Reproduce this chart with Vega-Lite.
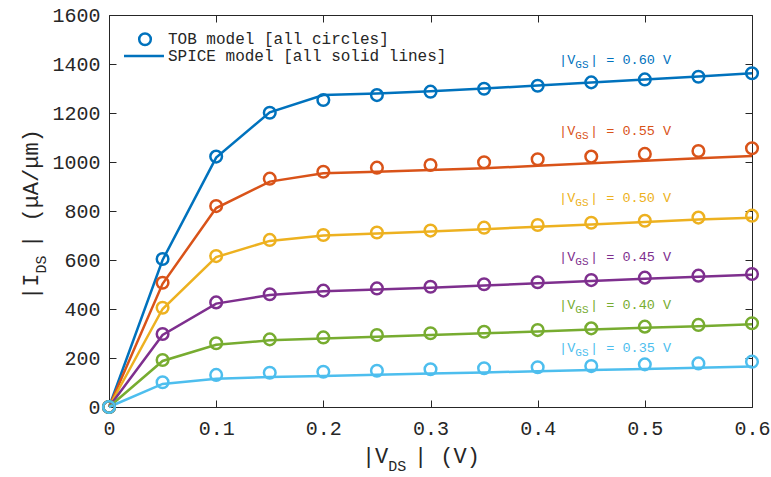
{
  "$schema": "https://vega.github.io/schema/vega-lite/v6.json",
  "width": 643,
  "height": 392,
  "autosize": {"type": "none"},
  "padding": {"left": 109, "top": 15, "right": 19, "bottom": 70},
  "background": "white",
  "config": {"view": {"stroke": null}},
  "datasets": {
    "curves": [
      {"vgs":"0.60","vds":0,"tob":0,"spice":0},{"vgs":"0.60","vds":0.05,"tob":604,"spice":600},{"vgs":"0.60","vds":0.1,"tob":1022,"spice":1018},{"vgs":"0.60","vds":0.15,"tob":1201,"spice":1203},{"vgs":"0.60","vds":0.2,"tob":1253,"spice":1273},{"vgs":"0.60","vds":0.25,"tob":1273,"spice":1280},{"vgs":"0.60","vds":0.3,"tob":1287,"spice":1289},{"vgs":"0.60","vds":0.35,"tob":1299,"spice":1300},{"vgs":"0.60","vds":0.4,"tob":1311,"spice":1312},{"vgs":"0.60","vds":0.45,"tob":1325,"spice":1324},{"vgs":"0.60","vds":0.5,"tob":1337,"spice":1337},{"vgs":"0.60","vds":0.55,"tob":1348,"spice":1349},{"vgs":"0.60","vds":0.6,"tob":1362,"spice":1362},
      {"vgs":"0.55","vds":0,"tob":0,"spice":0},{"vgs":"0.55","vds":0.05,"tob":507,"spice":503},{"vgs":"0.55","vds":0.1,"tob":820,"spice":812},{"vgs":"0.55","vds":0.15,"tob":932,"spice":920},{"vgs":"0.55","vds":0.2,"tob":960,"spice":954},{"vgs":"0.55","vds":0.25,"tob":977,"spice":960},{"vgs":"0.55","vds":0.3,"tob":988,"spice":967},{"vgs":"0.55","vds":0.35,"tob":999,"spice":974},{"vgs":"0.55","vds":0.4,"tob":1011,"spice":985},{"vgs":"0.55","vds":0.45,"tob":1022,"spice":995},{"vgs":"0.55","vds":0.5,"tob":1033,"spice":1005},{"vgs":"0.55","vds":0.55,"tob":1045,"spice":1015},{"vgs":"0.55","vds":0.6,"tob":1056,"spice":1024},
      {"vgs":"0.50","vds":0,"tob":0,"spice":0},{"vgs":"0.50","vds":0.05,"tob":405,"spice":400},{"vgs":"0.50","vds":0.1,"tob":616,"spice":612},{"vgs":"0.50","vds":0.15,"tob":682,"spice":678},{"vgs":"0.50","vds":0.2,"tob":702,"spice":700},{"vgs":"0.50","vds":0.25,"tob":712,"spice":708},{"vgs":"0.50","vds":0.3,"tob":720,"spice":716},{"vgs":"0.50","vds":0.35,"tob":732,"spice":726},{"vgs":"0.50","vds":0.4,"tob":743,"spice":736},{"vgs":"0.50","vds":0.45,"tob":752,"spice":745},{"vgs":"0.50","vds":0.5,"tob":760,"spice":755},{"vgs":"0.50","vds":0.55,"tob":773,"spice":765},{"vgs":"0.50","vds":0.6,"tob":781,"spice":772},
      {"vgs":"0.45","vds":0,"tob":0,"spice":0},{"vgs":"0.45","vds":0.05,"tob":298,"spice":294},{"vgs":"0.45","vds":0.1,"tob":427,"spice":422},{"vgs":"0.45","vds":0.15,"tob":460,"spice":457},{"vgs":"0.45","vds":0.2,"tob":475,"spice":472},{"vgs":"0.45","vds":0.25,"tob":484,"spice":480},{"vgs":"0.45","vds":0.3,"tob":491,"spice":487},{"vgs":"0.45","vds":0.35,"tob":501,"spice":496},{"vgs":"0.45","vds":0.4,"tob":509,"spice":505},{"vgs":"0.45","vds":0.45,"tob":518,"spice":514},{"vgs":"0.45","vds":0.5,"tob":528,"spice":523},{"vgs":"0.45","vds":0.55,"tob":536,"spice":532},{"vgs":"0.45","vds":0.6,"tob":543,"spice":540},
      {"vgs":"0.40","vds":0,"tob":0,"spice":0},{"vgs":"0.40","vds":0.05,"tob":192,"spice":188},{"vgs":"0.40","vds":0.1,"tob":260,"spice":254},{"vgs":"0.40","vds":0.15,"tob":276,"spice":272},{"vgs":"0.40","vds":0.2,"tob":284,"spice":280},{"vgs":"0.40","vds":0.25,"tob":294,"spice":287},{"vgs":"0.40","vds":0.3,"tob":301,"spice":294},{"vgs":"0.40","vds":0.35,"tob":307,"spice":301},{"vgs":"0.40","vds":0.4,"tob":314,"spice":308},{"vgs":"0.40","vds":0.45,"tob":321,"spice":316},{"vgs":"0.40","vds":0.5,"tob":328,"spice":323},{"vgs":"0.40","vds":0.55,"tob":335,"spice":330},{"vgs":"0.40","vds":0.6,"tob":342,"spice":338},
      {"vgs":"0.35","vds":0,"tob":0,"spice":0},{"vgs":"0.35","vds":0.05,"tob":101,"spice":94},{"vgs":"0.35","vds":0.1,"tob":131,"spice":115},{"vgs":"0.35","vds":0.15,"tob":140,"spice":122},{"vgs":"0.35","vds":0.2,"tob":144,"spice":127},{"vgs":"0.35","vds":0.25,"tob":148,"spice":132},{"vgs":"0.35","vds":0.3,"tob":154,"spice":137},{"vgs":"0.35","vds":0.35,"tob":158,"spice":141},{"vgs":"0.35","vds":0.4,"tob":162,"spice":146},{"vgs":"0.35","vds":0.45,"tob":167,"spice":151},{"vgs":"0.35","vds":0.5,"tob":174,"spice":155},{"vgs":"0.35","vds":0.55,"tob":178,"spice":160},{"vgs":"0.35","vds":0.6,"tob":185,"spice":165}
    ],
    "labels": [
      {"vgs":"0.60","lx":0.42,"ly":1400,"a":"|V","b":"GS","c":"| = 0.60 V"},
      {"vgs":"0.55","lx":0.42,"ly":1110,"a":"|V","b":"GS","c":"| = 0.55 V"},
      {"vgs":"0.50","lx":0.42,"ly":837,"a":"|V","b":"GS","c":"| = 0.50 V"},
      {"vgs":"0.45","lx":0.42,"ly":596,"a":"|V","b":"GS","c":"| = 0.45 V"},
      {"vgs":"0.40","lx":0.42,"ly":400,"a":"|V","b":"GS","c":"| = 0.40 V"},
      {"vgs":"0.35","lx":0.42,"ly":224,"a":"|V","b":"GS","c":"| = 0.35 V"}
    ],
    "legend": [
      {"item":"TOB model [all circles]","sx":0.0336,"sy":1501,"tx":0.055,"ty":1482},
      {"item":"SPICE model [all solid lines]","sx":0.014,"sx2":0.0513,"sy":1433,"tx":0.055,"ty":1412}
    ],
    "titles": [
      {"axis":"x","px":0.236,"py":-230,"a":"|V","b":"DS","c":"|  (V)"},
      {"axis":"y","px":-0.0663,"py":437,"a":"|I","b":"DS","c":"| (μA/μm)"}
    ]
  },
  "layer": [
    {
      "data": {"name": "curves"},
      "mark": {"type": "line", "strokeWidth": 2.5},
      "encoding": {
        "x": {"field": "vds", "type": "quantitative", "scale": {"domain": [0, 0.6], "nice": false},
          "axis": {"orient": "bottom", "values": [0, 0.1, 0.2, 0.3, 0.4, 0.5, 0.6], "labelExpr": "datum.value == 0 ? '0' : format(datum.value, '.1f')", "title": null, "grid": false, "tickSize": -7, "tickColor": "#262626", "domainColor": "#262626", "labelFont": "Liberation Mono", "labelFontSize": 20, "labelColor": "#262626", "labelPadding": 18, "labelFlush": false}},
        "y": {"field": "spice", "type": "quantitative", "scale": {"domain": [0, 1600], "nice": false},
          "axis": {"orient": "left", "values": [0, 200, 400, 600, 800, 1000, 1200, 1400, 1600], "format": "d", "title": null, "grid": false, "tickSize": -7, "tickColor": "#262626", "domainColor": "#262626", "labelFont": "Liberation Mono", "labelFontSize": 20, "labelColor": "#262626", "labelPadding": 16, "labelFlush": false}},
        "color": {"field": "vgs", "type": "nominal", "scale": {"domain": ["0.60","0.55","0.50","0.45","0.40","0.35"], "range": ["#0072BD","#D95319","#EDB120","#7E2F8E","#77AC30","#4DBEEE"]}, "legend": null}
      }
    },
    {
      "data": {"name": "curves"},
      "mark": {"type": "point", "shape": "circle", "filled": false, "size": 135, "strokeWidth": 2.5, "opacity": 1},
      "encoding": {
        "x": {"field": "vds", "type": "quantitative",
          "axis": {"orient": "top", "values": [0, 0.1, 0.2, 0.3, 0.4, 0.5, 0.6], "labels": false, "title": null, "grid": false, "tickSize": -7, "tickColor": "#262626", "domainColor": "#262626"}},
        "y": {"field": "tob", "type": "quantitative",
          "axis": {"orient": "right", "values": [0, 200, 400, 600, 800, 1000, 1200, 1400, 1600], "labels": false, "title": null, "grid": false, "tickSize": -7, "tickColor": "#262626", "domainColor": "#262626"}},
        "color": {"field": "vgs", "type": "nominal", "legend": null}
      }
    },
    {
      "data": {"name": "labels"},
      "mark": {"type": "text", "font": "Liberation Mono", "fontSize": 13.5, "align": "left", "baseline": "alphabetic"},
      "encoding": {
        "x": {"field": "lx", "type": "quantitative", "axis": null},
        "y": {"field": "ly", "type": "quantitative", "axis": null},
        "text": {"field": "a"},
        "color": {"field": "vgs", "type": "nominal", "legend": null}
      }
    },
    {
      "data": {"name": "labels"},
      "mark": {"type": "text", "font": "Liberation Mono", "fontSize": 11, "align": "left", "baseline": "alphabetic", "dx": 16.2, "dy": 4},
      "encoding": {
        "x": {"field": "lx", "type": "quantitative", "axis": null},
        "y": {"field": "ly", "type": "quantitative", "axis": null},
        "text": {"field": "b"},
        "color": {"field": "vgs", "type": "nominal", "legend": null}
      }
    },
    {
      "data": {"name": "labels"},
      "mark": {"type": "text", "font": "Liberation Mono", "fontSize": 13.5, "align": "left", "baseline": "alphabetic", "dx": 31},
      "encoding": {
        "x": {"field": "lx", "type": "quantitative", "axis": null},
        "y": {"field": "ly", "type": "quantitative", "axis": null},
        "text": {"field": "c"},
        "color": {"field": "vgs", "type": "nominal", "legend": null}
      }
    },
    {
      "data": {"name": "legend"},
      "transform": [{"filter": "datum.sx2 == null"}],
      "mark": {"type": "point", "shape": "circle", "filled": false, "size": 135, "strokeWidth": 2.5, "color": "#0072BD", "opacity": 1},
      "encoding": {
        "x": {"field": "sx", "type": "quantitative", "axis": null},
        "y": {"field": "sy", "type": "quantitative", "axis": null}
      }
    },
    {
      "data": {"name": "legend"},
      "transform": [{"filter": "datum.sx2 != null"}],
      "mark": {"type": "rule", "strokeWidth": 2.5, "color": "#0072BD"},
      "encoding": {
        "x": {"field": "sx", "type": "quantitative", "axis": null},
        "x2": {"field": "sx2"},
        "y": {"field": "sy", "type": "quantitative", "axis": null}
      }
    },
    {
      "data": {"name": "legend"},
      "mark": {"type": "text", "font": "Liberation Mono", "fontSize": 16, "align": "left", "baseline": "alphabetic", "color": "#262626"},
      "encoding": {
        "x": {"field": "tx", "type": "quantitative", "axis": null},
        "y": {"field": "ty", "type": "quantitative", "axis": null},
        "text": {"field": "item"}
      }
    },
    {
      "data": {"name": "titles"},
      "mark": {"type": "text", "font": "Liberation Mono", "fontSize": 22, "align": "left", "baseline": "alphabetic", "color": "#262626"},
      "encoding": {
        "x": {"field": "px", "type": "quantitative", "axis": null},
        "y": {"field": "py", "type": "quantitative", "axis": null},
        "angle": {"condition": {"test": "datum.axis == 'y'", "value": 270}, "value": 0},
        "text": {"field": "a"}
      }
    },
    {
      "data": {"name": "titles"},
      "mark": {"type": "text", "font": "Liberation Mono", "fontSize": 15, "align": "left", "baseline": "alphabetic", "color": "#262626", "dx": 26.4, "dy": 8},
      "encoding": {
        "x": {"field": "px", "type": "quantitative", "axis": null},
        "y": {"field": "py", "type": "quantitative", "axis": null},
        "angle": {"condition": {"test": "datum.axis == 'y'", "value": 270}, "value": 0},
        "text": {"field": "b"}
      }
    },
    {
      "data": {"name": "titles"},
      "mark": {"type": "text", "font": "Liberation Mono", "fontSize": 22, "align": "left", "baseline": "alphabetic", "color": "#262626", "dx": 52},
      "encoding": {
        "x": {"field": "px", "type": "quantitative", "axis": null},
        "y": {"field": "py", "type": "quantitative", "axis": null},
        "angle": {"condition": {"test": "datum.axis == 'y'", "value": 270}, "value": 0},
        "text": {"field": "c"}
      }
    }
  ],
  "resolve": {"axis": {"x": "independent", "y": "independent"}}
}
